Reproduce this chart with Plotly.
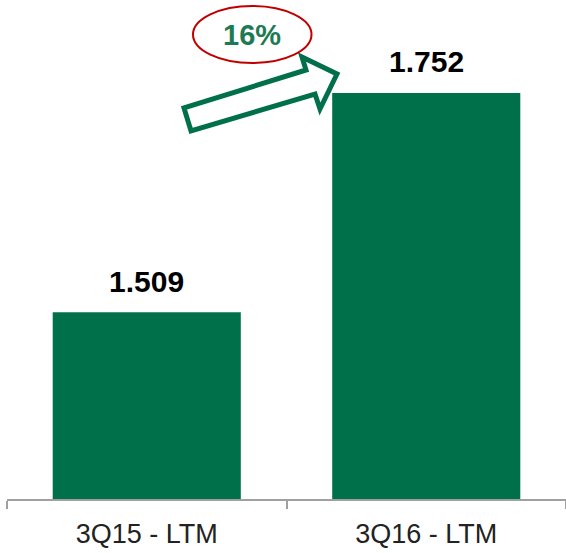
import plotly.graph_objects as go

categories = ["3Q15 - LTM", "3Q16 - LTM"]
values = [1.509, 1.752]
value_labels = ["1.509", "1.752"]
growth_label = "16%"

GREEN = "#00704A"
W, H = 566, 553
ML, MR, MT, MB = 7, 0, 0, 54
PW, PH = W - ML - MR, H - MT - MB


def px(x):
    return (x - ML) / PW


def py(y):
    return 1 - (y - MT) / PH


fig = go.Figure()
fig.add_trace(go.Bar(x=categories, y=values, marker=dict(color=GREEN, line=dict(width=0)),
                     width=0.673, hoverinfo="skip"))

for c, v, t in zip(categories, values, value_labels):
    fig.add_annotation(x=c, y=v, text="<b>%s</b>" % t, showarrow=False, yanchor="middle",
                       yshift=31, font=dict(family="Liberation Sans", size=30, color="#000000"))

# hollow block arrow (decoration)
pts = [(184, 108), (306, 70), (302, 57), (337, 74), (320, 109), (315, 94), (191, 131)]
path = "M " + " L ".join("%.4f,%.4f" % (px(x), py(y)) for x, y in pts) + " Z"
fig.add_shape(type="path", path=path, xref="paper", yref="paper",
              line=dict(color=GREEN, width=5), fillcolor="white", layer="above")

# ellipse with growth label
fig.add_shape(type="circle", xref="paper", yref="paper",
              x0=px(193), x1=px(311.5), y0=py(63), y1=py(6),
              line=dict(color="#C00000", width=2), fillcolor="rgba(0,0,0,0)", layer="above")
fig.add_annotation(x=px(252), y=py(35), xref="paper", yref="paper", text="<b>%s</b>" % growth_label,
                   showarrow=False, xanchor="center", yanchor="middle",
                   font=dict(family="Liberation Sans", size=29, color="#1E7A52"))

fig.update_layout(
    width=W, height=H, margin=dict(l=ML, r=MR, t=MT, b=MB),
    paper_bgcolor="white", plot_bgcolor="white", showlegend=False,
    xaxis=dict(type="category", range=[-0.5, 1.5], showline=True, linecolor="#A0A0A0", linewidth=1.5,
               ticks="outside", tickson="boundaries", ticklen=8, tickcolor="#A0A0A0", tickwidth=1.5,
               ticklabelstandoff=10,
               showgrid=False, tickfont=dict(family="Liberation Sans", size=27, color="#222222")),
    yaxis=dict(range=[1.302, 1.855], visible=False, showgrid=False, zeroline=False),
)

fig.write_html("out.html")
